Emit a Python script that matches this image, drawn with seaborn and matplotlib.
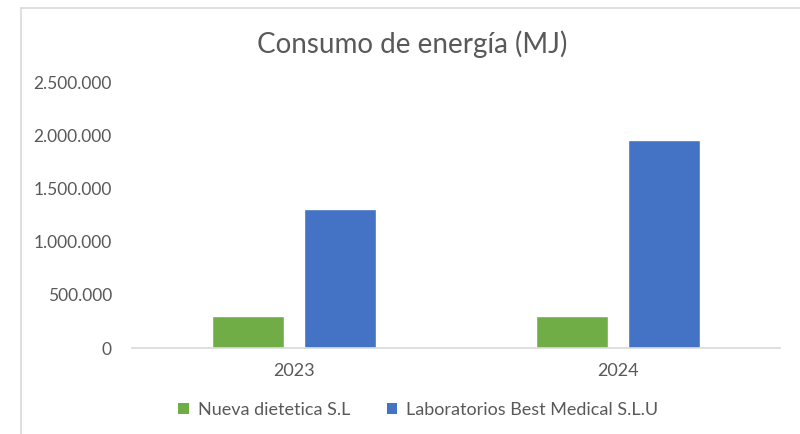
import matplotlib
matplotlib.use("Agg")
import matplotlib.pyplot as plt
from matplotlib.lines import Line2D
from matplotlib.patches import Patch
from matplotlib.ticker import FuncFormatter
import seaborn as sns
import pandas as pd

years = ["2023", "2024"]
series_names = ["Nueva dietetica S.L", "Laboratorios Best Medical S.L.U"]
nueva_values = [305000, 305000]
best_values = [1305000, 1955000]
title = "Consumo de energía (MJ)"
colors = ["#70AD47", "#4472C4"]

df = pd.DataFrame({
    "year": years * 2,
    "company": [series_names[0]] * 2 + [series_names[1]] * 2,
    "value": nueva_values + best_values,
})

sns.set_theme(style="white")
plt.rcParams["font.family"] = ["Lato", "DejaVu Sans"]
text_color = "#595959"

fig = plt.figure(figsize=(8, 4.34), dpi=100)
ax = fig.add_axes([0.165, 0.198, 0.81, 0.613])

sns.barplot(data=df, x="year", y="value", hue="company", order=years,
            hue_order=series_names, palette=colors, width=0.568, gap=0.218,
            saturation=1, ax=ax, legend=False)

ax.set_xlim(-0.5, 1.5)
ax.set_ylim(0, 2500000)
ax.set_yticks([0, 500000, 1000000, 1500000, 2000000, 2500000])
ax.yaxis.set_major_formatter(FuncFormatter(lambda v, p: f"{int(v):,}".replace(",", ".")))
ax.set_xlabel("")
ax.set_ylabel("")
for s in ["top", "right", "left"]:
    ax.spines[s].set_visible(False)
ax.spines["bottom"].set_color("#D9D9D9")
ax.spines["bottom"].set_linewidth(1.2)
ax.tick_params(axis="both", length=0, colors=text_color)
ax.tick_params(axis="y", pad=14.5, labelsize=12.5)
ax.tick_params(axis="x", pad=11, labelsize=13)
ax.grid(False)

fig.text(0.515, 0.898, title, ha="center", va="center", fontsize=20, color=text_color)

handles = [Patch(facecolor=c, edgecolor="none") for c in colors]
fig.legend(handles, series_names, loc="center", bbox_to_anchor=(0.523, 0.055),
           ncol=2, frameon=False, fontsize=13, labelcolor=text_color,
           handlelength=0.6, handleheight=0.6, handletextpad=0.5, columnspacing=2.0)

# chart frame
fig.add_artist(Line2D([0.026, 1.0], [0.982, 0.982], transform=fig.transFigure,
                      color="#D9D9D9", lw=1.2))
fig.add_artist(Line2D([0.026, 0.026], [0.0, 0.982], transform=fig.transFigure,
                      color="#D9D9D9", lw=1.2))

fig.savefig("out.png", dpi=100, facecolor="white")
